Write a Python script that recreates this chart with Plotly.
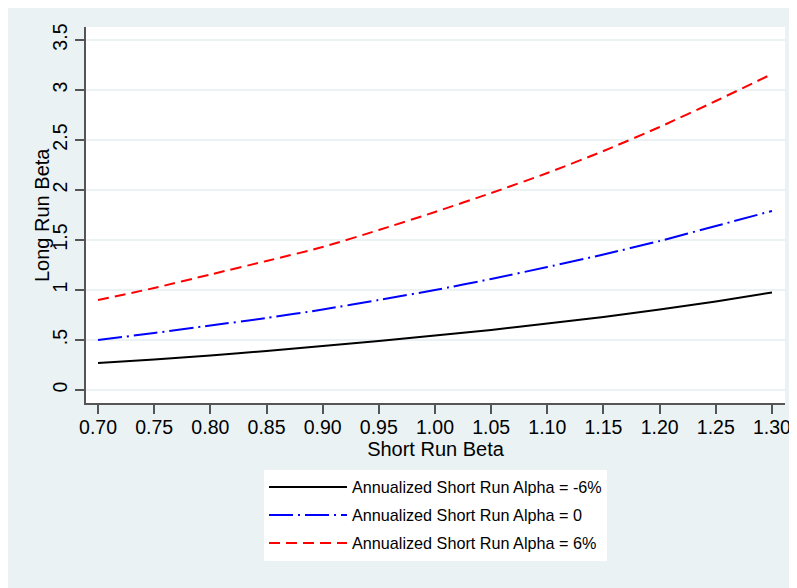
import plotly.graph_objects as go

short_run_beta = [0.70, 0.75, 0.80, 0.85, 0.90, 0.95, 1.00, 1.05, 1.10, 1.15, 1.20, 1.25, 1.30]
long_beta_neg6 = [0.27, 0.305, 0.345, 0.39, 0.44, 0.49, 0.545, 0.60, 0.665, 0.73, 0.805, 0.885, 0.975]
long_beta_zero = [0.50, 0.57, 0.645, 0.72, 0.805, 0.90, 1.00, 1.11, 1.23, 1.355, 1.49, 1.64, 1.79]
long_beta_pos6 = [0.90, 1.02, 1.155, 1.29, 1.43, 1.60, 1.78, 1.97, 2.17, 2.39, 2.63, 2.89, 3.16]

series_names = ["Annualized Short Run Alpha = -6%",
                "Annualized Short Run Alpha = 0",
                "Annualized Short Run Alpha = 6%"]

x_tickvals = short_run_beta
x_ticktext = ["%.2f" % v for v in short_run_beta]
y_tickvals = [0, 0.5, 1, 1.5, 2, 2.5, 3, 3.5]
y_ticktext = ["0", ".5", "1", "1.5", "2", "2.5", "3", "3.5"]

FONT = "Liberation Sans, Arial, sans-serif"
BG = "#EAF2F3"

fig = go.Figure()
styles = [dict(color="black", width=2, dash="solid"),
          dict(color="#0000FF", width=2, dash="24px,5px,2px,5px"),
          dict(color="#FF0000", width=2, dash="11px,6px")]
for i, (ys, name, st) in enumerate(zip([long_beta_neg6, long_beta_zero, long_beta_pos6], series_names, styles)):
    fig.add_trace(go.Scatter(x=short_run_beta, y=ys, mode="lines", name=name,
                             legendgroup="g%d" % i,
                             line=dict(shape="spline", smoothing=0.6, **st)))

fig.add_annotation(text="Long Run Beta", xref="paper", yref="paper",
                   x=-44 / 699, y=0.5, xanchor="center", yanchor="middle",
                   textangle=-90, showarrow=False, font=dict(size=20, family=FONT))

fig.update_layout(
    width=797, height=588,
    paper_bgcolor=BG, plot_bgcolor="white",
    margin=dict(l=78, r=20, t=19, b=193, autoexpand=False),
    font=dict(family=FONT, size=19, color="black"),
    showlegend=True,
    legend=dict(x=0.5, xanchor="center", y=-0.178, yanchor="top",
                bgcolor="white", borderwidth=0, font=dict(size=16.2, family=FONT),
                traceorder="grouped", tracegroupgap=4, itemwidth=78),
    xaxis=dict(range=[0.6893, 1.3116], tickvals=x_tickvals, ticktext=x_ticktext,
               automargin=False,
               showgrid=False, zeroline=False, showline=True, linecolor="#555555", linewidth=1.5,
               ticks="outside", ticklen=9, tickcolor="#555555", tickwidth=1.5,
               tickfont=dict(size=19.5), ticklabelstandoff=-3,
               title=dict(text="Short Run Beta", font=dict(size=20), standoff=4)),
    yaxis=dict(range=[-0.13, 3.63], tickvals=y_tickvals, ticktext=y_ticktext,
               automargin=False,
               showgrid=True, gridcolor=BG, gridwidth=1.5, zeroline=False,
               showline=True, linecolor="#555555", linewidth=1.5,
               ticks="outside", ticklen=9, tickcolor="#555555", tickwidth=1.5,
               tickangle=-90, tickfont=dict(size=19.5)),
)

fig.write_html("out.html")
